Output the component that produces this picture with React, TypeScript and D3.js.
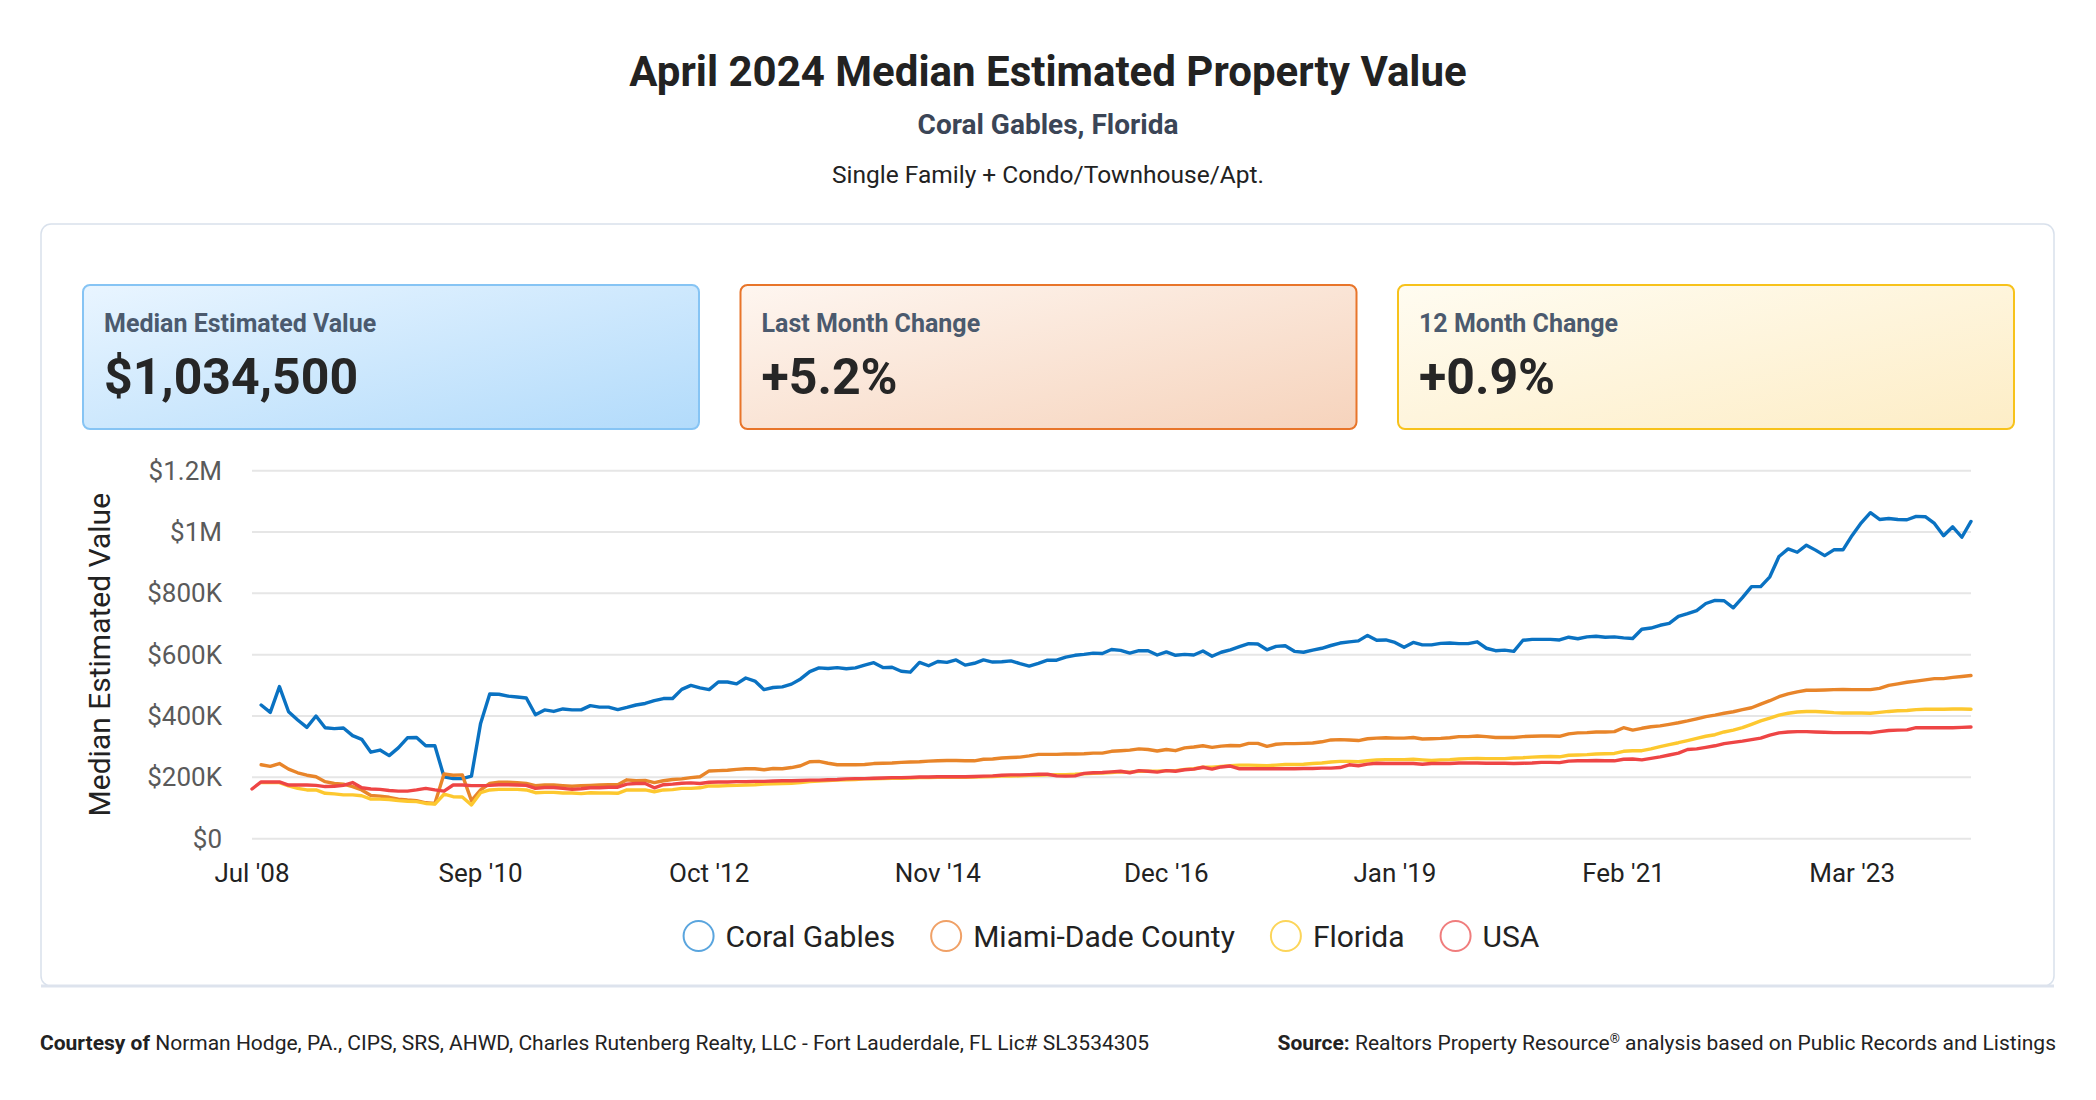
import { useEffect, useRef } from 'react'
import * as d3 from 'd3'

// monthly values in $K, one point per month (index 0 = Jul '08 column)
const coralGables: (number | null)[] = [
  null, 436, 412, 496, 414, 387, 363, 400, 362, 359, 361, 336, 324, 282, 289, 271, 296, 329, 330, 303,
  303, 202, 196, 196, 204, 376, 472, 471, 465, 462, 459, 404, 420, 415, 423, 420, 420, 434, 429, 429,
  421, 428, 436, 441, 450, 457, 457, 487, 500, 492, 486, 511, 511, 505, 524, 514, 486, 493, 495, 504,
  521, 545, 557, 555, 558, 554, 557, 566, 574, 558, 559, 546, 543, 575, 564, 578, 575, 583, 566, 572,
  583, 576, 577, 580, 571, 563, 572, 582, 582, 592, 598, 601, 605, 604, 617, 614, 605, 613, 613, 599,
  609, 598, 601, 599, 612, 595, 608, 616, 626, 636, 635, 616, 627, 629, 611, 608, 615, 621, 630, 638,
  642, 645, 663, 647, 648, 640, 624, 640, 632, 632, 637, 638, 636, 636, 642, 621, 613, 615, 611, 647,
  650, 650, 650, 648, 657, 652, 658, 660, 657, 658, 655, 653, 683, 687, 696, 702, 725, 734, 744, 767,
  777, 776, 753, 786, 822, 822, 854, 920, 945, 934, 957, 941, 923, 942, 942, 989, 1030, 1063, 1041, 1044,
  1041, 1040, 1051, 1050, 1028, 988, 1017, 983, 1034.5,
]

const miamiDade: (number | null)[] = [
  null, 241, 236, 245, 227, 215, 207, 202, 186, 180, 178, 170, 159, 141, 139, 135, 129, 126, 124, 117,
  115, 211, 207, 208, 124, 159, 180, 184, 184, 183, 180, 173, 175, 175, 173, 171, 173, 174, 175, 176,
  176, 192, 189, 190, 183, 189, 193, 195, 199, 202, 221, 222, 223, 226, 228, 228, 225, 229, 228, 232,
  238, 251, 252, 246, 241, 241, 241, 242, 245, 246, 247, 249, 250, 251, 253, 254, 255, 255, 254, 254,
  259, 260, 263, 265, 266, 270, 275, 275, 275, 276, 276, 277, 279, 279, 285, 287, 289, 293, 291, 286,
  291, 287, 296, 299, 303, 298, 302, 304, 303, 311, 311, 301, 308, 310, 310, 311, 312, 316, 322, 323,
  322, 320, 326, 328, 329, 328, 328, 330, 325, 326, 327, 329, 333, 333, 335, 333, 330, 330, 330, 333,
  334, 335, 335, 334, 342, 345, 346, 348, 348, 349, 362, 354, 360, 365, 368, 373, 378, 384, 391, 398,
  403, 409, 414, 421, 427, 439, 450, 463, 472, 479, 484, 484, 485, 486, 487, 486, 486, 486, 490, 500,
  505, 510, 514, 518, 522, 522, 526, 529, 532,
]

const florida: (number | null)[] = [
  null, 183, 183, 183, 172, 164, 159, 159, 148, 146, 143, 143, 140, 129, 129, 128, 124, 122, 121, 115,
  113, 145, 137, 136, 110, 150, 159, 161, 161, 161, 159, 150, 151, 151, 149, 149, 147, 150, 149, 149,
  148, 159, 159, 159, 153, 159, 160, 164, 164, 166, 172, 172, 173, 174, 175, 176, 178, 179, 180, 181,
  183, 186, 188, 190, 191, 192, 193, 195, 195, 196, 197, 197, 198, 199, 199, 200, 200, 200, 200, 201,
  202, 203, 204, 204, 205, 207, 207, 208, 209, 209, 210, 212, 213, 214, 216, 218, 217, 220, 220, 220,
  222, 222, 226, 228, 233, 233, 236, 238, 240, 240, 239, 238, 240, 242, 242, 243, 245, 247, 250, 252,
  252, 251, 254, 257, 258, 258, 258, 259, 257, 255, 257, 258, 260, 261, 262, 261, 261, 261, 263, 264,
  266, 267, 268, 267, 272, 273, 274, 276, 277, 278, 285, 287, 287, 293, 300, 307, 313, 320, 327, 334,
  339, 348, 354, 362, 373, 384, 393, 403, 409, 413, 415, 415, 413, 411, 410, 410, 410, 409, 412, 415,
  417, 418, 421, 422, 422, 422, 423, 423, 422,
]

const usa: (number | null)[] = [
  162, 185, 185, 185, 175, 175, 175, 174, 170, 171, 174, 183, 166, 162, 161, 157, 155, 155, 159, 164,
  159, 155, 175, 175, 173, 173, 174, 176, 176, 175, 174, 164, 167, 167, 164, 161, 163, 166, 166, 168,
  168, 178, 180, 180, 166, 176, 178, 181, 182, 180, 184, 185, 185, 186, 186, 187, 187, 188, 189, 189,
  190, 191, 191, 192, 193, 195, 196, 196, 197, 198, 199, 199, 200, 201, 201, 202, 202, 202, 202, 203,
  204, 205, 207, 208, 208, 209, 210, 210, 205, 204, 205, 213, 215, 216, 218, 220, 215, 222, 220, 217,
  222, 220, 225, 227, 233, 227, 234, 237, 228, 228, 228, 228, 228, 228, 228, 229, 229, 230, 230, 232,
  241, 238, 243, 246, 245, 245, 245, 245, 243, 245, 245, 245, 247, 247, 247, 246, 246, 246, 245, 246,
  247, 249, 249, 248, 253, 254, 254, 255, 254, 254, 259, 260, 257, 262, 267, 273, 279, 291, 293, 298,
  303, 310, 314, 318, 323, 328, 338, 345, 348, 349, 349, 348, 347, 346, 346, 346, 346, 345, 349, 353,
  354, 355, 362, 362, 362, 362, 362, 363, 364,
]

const seriesNames = ['Coral Gables', 'Miami-Dade County', 'Florida', 'USA']
const seriesValues = [coralGables, miamiDade, florida, usa]
const lineColors = ['#0a72c2', '#e8852a', '#fdc82f', '#ee4545']
const legendColors = ['#5aa5de', '#f0a167', '#fcd55a', '#f07d7d']

const xTickLabels = ["Jul '08", "Sep '10", "Oct '12", "Nov '14", "Dec '16", "Jan '19", "Feb '21", "Mar '23"]
const xTickStep = 25
const yTicks = [0, 200, 400, 600, 800, 1000, 1200]

const cardLabels = ['Median Estimated Value', 'Last Month Change', '12 Month Change']
const cardValues = ['$1,034,500', '+5.2%', '+0.9%']
const cardStyles = [
  { from: '#e9f5ff', to: '#b2dbfb', border: '#86c4f4' },
  { from: '#fef6f0', to: '#f6d3bc', border: '#e8752a' },
  { from: '#fffcf1', to: '#fdedc6', border: '#f7c21b' },
]

const FONT = 'Roboto, "Noto Sans", sans-serif'

export default function App() {
  const svgRef = useRef<SVGSVGElement>(null)

  useEffect(() => {
    if (!svgRef.current) return
    const svg = d3.select(svgRef.current)
    svg.selectAll('*').remove()

    const width = 2096
    const height = 1100
    svg.attr('width', width).attr('height', height).style('font-family', FONT)

    // Header
    svg.append('text')
      .attr('x', 1048).attr('y', 71).attr('dy', '0.35em')
      .attr('text-anchor', 'middle')
      .style('font-size', '42px').style('font-weight', '700').style('fill', '#222')
      .text('April 2024 Median Estimated Property Value')

    svg.append('text')
      .attr('x', 1048).attr('y', 124).attr('dy', '0.35em')
      .attr('text-anchor', 'middle')
      .style('font-size', '28px').style('font-weight', '700').style('fill', '#3b4556')
      .text('Coral Gables, Florida')

    svg.append('text')
      .attr('x', 1048).attr('y', 174).attr('dy', '0.35em')
      .attr('text-anchor', 'middle')
      .style('font-size', '24.5px').style('fill', '#222')
      .text('Single Family + Condo/Townhouse/Apt.')

    // Panel
    svg.append('rect')
      .attr('x', 41).attr('y', 224).attr('width', 2013).attr('height', 762)
      .attr('rx', 10)
      .attr('fill', '#fff').attr('stroke', '#d9e1ec').attr('stroke-width', 1.5)
    svg.append('line')
      .attr('x1', 41).attr('x2', 2054).attr('y1', 986).attr('y2', 986)
      .attr('stroke', '#dde3ed').attr('stroke-width', 3)

    // Cards
    const defs = svg.append('defs')
    const cardW = 616
    const cardGap = 41.5
    cardStyles.forEach((c, i) => {
      const grad = defs.append('linearGradient')
        .attr('id', `card-grad-${i}`)
        .attr('x1', '0').attr('y1', '0').attr('x2', '1').attr('y2', '1')
      grad.append('stop').attr('offset', '0%').attr('stop-color', c.from)
      grad.append('stop').attr('offset', '100%').attr('stop-color', c.to)

      const cx = 83 + i * (cardW + cardGap)
      const card = svg.append('g').attr('transform', `translate(${cx},285)`)
      card.append('rect')
        .attr('x', 0).attr('y', 0).attr('width', cardW).attr('height', 144)
        .attr('rx', 7)
        .attr('fill', `url(#card-grad-${i})`)
        .attr('stroke', c.border).attr('stroke-width', 2)
      card.append('text')
        .attr('x', 21).attr('y', 38).attr('dy', '0.35em')
        .style('font-size', '25px').style('font-weight', '700').style('fill', '#4b5a6e')
        .text(cardLabels[i])
      card.append('text')
        .attr('x', 21).attr('y', 91).attr('dy', '0.35em')
        .style('font-size', '50px').style('font-weight', '700').style('fill', '#262626')
        .text(cardValues[i])
    })

    // Chart
    const plotLeft = 252
    const plotRight = 1971
    const plotTop = 470.7
    const plotBottom = 838.7
    const nPoints = usa.length

    const x = d3.scaleLinear().domain([0, nPoints - 1]).range([plotLeft, plotRight])
    const y = d3.scaleLinear().domain([0, 1200]).range([plotBottom, plotTop])

    const g = svg.append('g')

    g.selectAll('.grid')
      .data(yTicks)
      .enter()
      .append('line')
      .attr('x1', plotLeft).attr('x2', plotRight)
      .attr('y1', d => y(d)).attr('y2', d => y(d))
      .attr('stroke', '#e6e6e6').attr('stroke-width', 2)

    const fmtY = (d: number) => d === 0 ? '$0' : d >= 1000 ? `$${d / 1000}M` : `$${d}K`

    g.selectAll('.ylabel')
      .data(yTicks)
      .enter()
      .append('text')
      .attr('x', 222).attr('y', d => y(d)).attr('dy', '0.35em')
      .attr('text-anchor', 'end')
      .style('font-size', '26px').style('fill', '#5a5a5a')
      .text(fmtY)

    g.selectAll('.xlabel')
      .data(xTickLabels)
      .enter()
      .append('text')
      .attr('x', (_, i) => x(i * xTickStep)).attr('y', 873).attr('dy', '0.35em')
      .attr('text-anchor', 'middle')
      .style('font-size', '26px').style('fill', '#222')
      .text(d => d)

    g.append('text')
      .attr('transform', `translate(99,${(plotTop + plotBottom) / 2}) rotate(-90)`)
      .attr('dy', '0.35em')
      .attr('text-anchor', 'middle')
      .style('font-size', '30px').style('fill', '#222')
      .text('Median Estimated Value')

    const line = d3.line<number | null>()
      .defined(d => d !== null)
      .x((_, i) => x(i))
      .y(d => y(d as number))

    seriesValues.forEach((vals, i) => {
      g.append('path')
        .datum(vals)
        .attr('d', line)
        .attr('fill', 'none')
        .attr('stroke', lineColors[i])
        .attr('stroke-width', 3.4)
        .attr('stroke-linejoin', 'round')
        .attr('stroke-linecap', 'round')
    })

    // Legend, centered under the plot
    const legend = svg.append('g')
    const items = legend.selectAll('.item')
      .data(seriesNames)
      .enter()
      .append('g')
    items.append('circle')
      .attr('r', 15).attr('cx', 0).attr('cy', 0)
      .attr('fill', 'none')
      .attr('stroke', (_, i) => legendColors[i]).attr('stroke-width', 2)
    items.append('text')
      .attr('x', 27).attr('dy', '0.35em')
      .style('font-size', '30px').style('fill', '#222')
      .text(d => d)

    let offset = 0
    const widths: number[] = []
    items.select('text').each(function () {
      widths.push((this as SVGTextElement).getComputedTextLength())
    })
    const positions = widths.map((w, i) => {
      const p = offset
      offset += 27 + w + (i < widths.length - 1 ? 51 : 0)
      return p
    })
    const totalW = offset + 15
    const startX = (plotLeft + plotRight) / 2 - totalW / 2 + 15
    items.attr('transform', (_, i) => `translate(${startX + positions[i]},936)`)

    // Footer
    const left = svg.append('text')
      .attr('x', 40).attr('y', 1043).attr('dy', '0.35em')
      .style('font-size', '21px').style('fill', '#222')
    left.append('tspan').style('font-weight', '700').text('Courtesy of ')
    left.append('tspan').text('Norman Hodge, PA., CIPS, SRS, AHWD, Charles Rutenberg Realty, LLC - Fort Lauderdale, FL Lic# SL3534305')

    const right = svg.append('text')
      .attr('x', 2056).attr('y', 1043).attr('dy', '0.35em')
      .attr('text-anchor', 'end')
      .style('font-size', '21px').style('fill', '#222')
    right.append('tspan').style('font-weight', '700').text('Source: ')
    right.append('tspan').text('Realtors Property Resource')
    right.append('tspan').attr('baseline-shift', 'super').style('font-size', '13px').text('®')
    right.append('tspan').text(' analysis based on Public Records and Listings')
  }, [])

  return (
    <svg
      ref={svgRef}
      style={{ position: 'absolute', left: 0, top: 0, display: 'block', background: '#fff' }}
    />
  )
}
